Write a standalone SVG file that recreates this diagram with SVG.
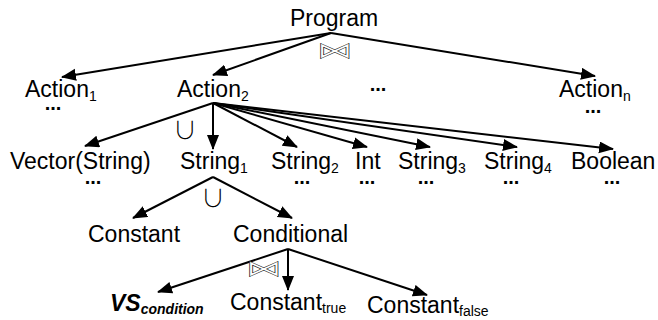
<svg xmlns="http://www.w3.org/2000/svg" width="658" height="320" viewBox="0 0 658 320">
  <style>
    .lbl { font-family: "Liberation Sans", Arial, sans-serif; font-size: 23px; fill: #000; }
    .sub { font-size: 14px; }
    .dots { font-family: "Liberation Sans", Arial, sans-serif; font-size: 20px; font-weight: bold; fill: #000; text-anchor: middle; }
    .join { font-family: "DejaVu Sans", sans-serif; font-size: 36px; fill: #fff; stroke: #000; stroke-width: 0.7; text-anchor: middle; }
    .union { font-family: "Noto Sans CJK JP", "DejaVu Sans", sans-serif; font-size: 24px; font-weight: 300; fill: #000; text-anchor: middle; }
    .edge { stroke: #000; stroke-width: 2; fill: none; marker-end: url(#arrow); }
  </style>
  <defs>
    <marker id="arrow" markerUnits="userSpaceOnUse" markerWidth="16" markerHeight="13" refX="14" refY="6" orient="auto">
      <path d="M0,0 L15,6 L0,12 z" fill="#000"/>
    </marker>
  </defs>
  <rect width="658" height="320" fill="#fff"/>

  <g id="connectors">
    <line class="edge" x1="331" y1="33" x2="62" y2="77"/>
    <line class="edge" x1="331" y1="33" x2="213" y2="75"/>
    <line class="edge" x1="331" y1="33" x2="595" y2="76"/>
    <line class="edge" x1="213" y1="103" x2="85" y2="146"/>
    <line class="edge" x1="213" y1="103" x2="213" y2="149"/>
    <line class="edge" x1="213" y1="103" x2="297" y2="147"/>
    <line class="edge" x1="213" y1="103" x2="367" y2="147"/>
    <line class="edge" x1="213" y1="103" x2="430" y2="147"/>
    <line class="edge" x1="213" y1="103" x2="517" y2="147"/>
    <line class="edge" x1="213" y1="103" x2="613" y2="149"/>
    <line class="edge" x1="213" y1="177" x2="133" y2="218"/>
    <line class="edge" x1="213" y1="177" x2="292" y2="218"/>
    <line class="edge" x1="288" y1="249" x2="158" y2="292"/>
    <line class="edge" x1="288" y1="249" x2="288" y2="290"/>
    <line class="edge" x1="288" y1="249" x2="427" y2="295"/>
    <!-- join operators, flattened to a wide bowtie -->
    <text class="join" transform="translate(335,51) scale(1,0.62)" x="0" y="12">⋈</text>
    <text class="join" transform="translate(264,269) scale(1,0.62)" x="0" y="12">⋈</text>
    <!-- union operators -->
    <text class="union" x="185" y="139">∪</text>
    <text class="union" x="213" y="207">∪</text>
    <text class="dots" x="378" y="91">...</text>
  </g>

  <g id="program"><text class="lbl" x="334" y="26" text-anchor="middle">Program</text></g>
  <g id="action1">
    <text class="lbl" x="25" y="97">Action<tspan class="sub" dy="4">1</tspan></text>
    <text class="dots" x="53" y="110">...</text>
  </g>
  <g id="action2"><text class="lbl" x="177" y="97">Action<tspan class="sub" dy="4">2</tspan></text></g>
  <g id="actionn">
    <text class="lbl" x="559" y="97">Action<tspan class="sub" dy="4">n</tspan></text>
    <text class="dots" x="593" y="113">...</text>
  </g>

  <g id="vector-string">
    <text class="lbl" x="10" y="169">Vector(String)</text>
    <text class="dots" x="93" y="184">...</text>
  </g>
  <g id="string1"><text class="lbl" x="180" y="169">String<tspan class="sub" dy="4">1</tspan></text></g>
  <g id="string2">
    <text class="lbl" x="271" y="169">String<tspan class="sub" dy="4">2</tspan></text>
    <text class="dots" x="302" y="184">...</text>
  </g>
  <g id="int">
    <text class="lbl" x="355" y="169">Int</text>
    <text class="dots" x="367" y="184">...</text>
  </g>
  <g id="string3">
    <text class="lbl" x="398" y="169">String<tspan class="sub" dy="4">3</tspan></text>
    <text class="dots" x="426" y="184">...</text>
  </g>
  <g id="string4">
    <text class="lbl" x="484" y="169">String<tspan class="sub" dy="4">4</tspan></text>
    <text class="dots" x="511" y="184">...</text>
  </g>
  <g id="boolean">
    <text class="lbl" x="571" y="169">Boolean</text>
    <text class="dots" x="612" y="184">...</text>
  </g>

  <g id="constant"><text class="lbl" x="88" y="242">Constant</text></g>
  <g id="conditional"><text class="lbl" x="233" y="242">Conditional</text></g>

  <g id="vs-condition"><text class="lbl" x="110" y="311" font-weight="bold" font-style="italic">VS<tspan class="sub" font-size="15" dy="3">condition</tspan></text></g>
  <g id="constant-true"><text class="lbl" x="230" y="310">Constant<tspan class="sub" dy="3">true</tspan></text></g>
  <g id="constant-false"><text class="lbl" x="367" y="313">Constant<tspan class="sub" dy="3">false</tspan></text></g>
</svg>
